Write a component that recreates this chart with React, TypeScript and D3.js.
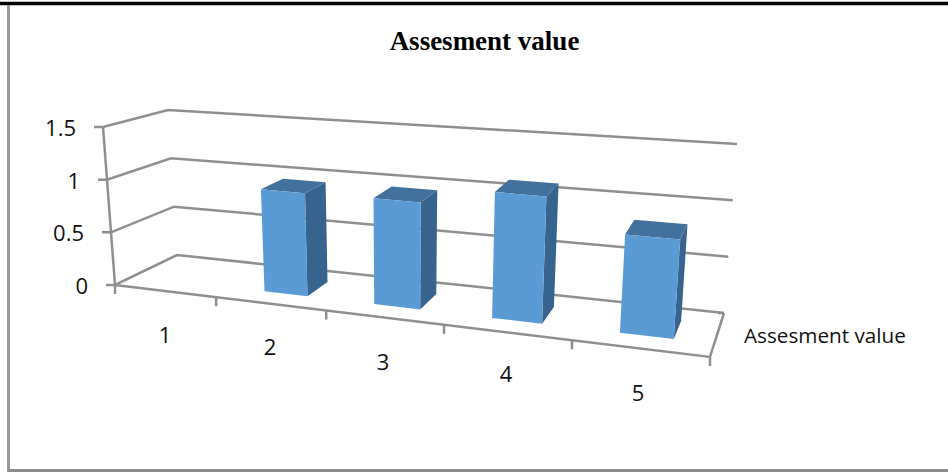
import React from "react";
import * as d3 from "d3";

const categories = ["1", "2", "3", "4", "5"];
const seriesName = "Assesment value";
const values: (number | null)[] = [null, 0.96, 0.97, 1.12, 0.85];
const valueTicks = [0, 0.5, 1, 1.5];

type Pt = [number, number];

// Screen corners of the chart box: floor and top, front and back.
const frontFloorLeft: Pt = [115, 285];
const frontFloorRight: Pt = [710, 357];
const backFloorLeft: Pt = [177, 255];
const backFloorRight: Pt = [724, 313];
const frontTopLeft: Pt = [103, 127];
const frontTopRight: Pt = [723, 176];
const backTopLeft: Pt = [168, 110];
const backTopRight: Pt = [737, 144];

// Foreshortened position along the category axis.
const catScale = d3.scaleLinear().domain([0, 1, 2, 3, 4, 5]).range([0, 0.17, 0.355, 0.553, 0.768, 1]);
const valScale = d3.scaleLinear().domain([0, 1.5]).range([0, 1]);

const mix = (a: Pt, b: Pt, t: number): Pt => [a[0] + (b[0] - a[0]) * t, a[1] + (b[1] - a[1]) * t];

// Maps (category position, depth 0..1, value) to the page.
function project(c: number, depth: number, v: number): Pt {
  const u = catScale(c);
  const w = valScale(v);
  const floor = mix(mix(frontFloorLeft, frontFloorRight, u), mix(backFloorLeft, backFloorRight, u), depth);
  const top = mix(mix(frontTopLeft, frontTopRight, u), mix(backTopLeft, backTopRight, u), depth);
  return mix(floor, top, w);
}

const pointsAttr = (pts: Pt[]) => pts.map((p) => `${p[0].toFixed(1)},${p[1].toFixed(1)}`).join(" ");

const AXIS = "#8f8f8f";
const AXIS_W = 2.5;
const BAR_FRONT = "#5b9bd5";
const BAR_TOP = "#41719c";
const BAR_SIDE = "#37648f";
const LABEL_FONT = "'Open Sans', sans-serif";

const BAR_START = 0.3;
const BAR_END = 0.7;
const DEPTH_NEAR = 0.3;
const DEPTH_FAR = 0.72;

const catLabelPos: Pt[] = [
  [165, 335],
  [270, 347],
  [383, 362],
  [506, 374],
  [638, 393],
];

export default function App() {
  return (
    <svg
      width={948}
      height={473}
      style={{ position: "absolute", left: 0, top: 0, background: "#fff" }}
    >
      {/* frame */}
      <line x1={0} x2={948} y1={3.5} y2={3.5} stroke="#000" strokeWidth={3.5} />
      <line x1={8.5} x2={8.5} y1={5} y2={472} stroke="#999" strokeWidth={3} />
      <line x1={8} x2={948} y1={470.5} y2={470.5} stroke="#8c8c8c" strokeWidth={3} />

      <text
        x={484.5}
        y={50}
        textAnchor="middle"
        fontFamily="'Liberation Serif', serif"
        fontWeight="bold"
        fontSize={27}
        fill="#000"
      >
        {seriesName}
      </text>

      {/* gridlines across back wall and left wall */}
      {valueTicks.map((t) => {
        const a = project(0, 0, t);
        const b = project(0, 1, t);
        const c = project(5, 1, t);
        const tick: Pt = [a[0] - 9, a[1]];
        return (
          <g key={t}>
            <polyline points={pointsAttr([tick, a, b, c])} fill="none" stroke={AXIS} strokeWidth={AXIS_W} />
            <text x={a[0] - 27} y={a[1] + 9} textAnchor="end" fontFamily={LABEL_FONT} fontSize={22} fill="#111">
              {t}
            </text>
          </g>
        );
      })}

      {/* value axis */}
      <line
        x1={project(0, 0, 0)[0]}
        y1={project(0, 0, 0)[1]}
        x2={project(0, 0, 1.5)[0]}
        y2={project(0, 0, 1.5)[1]}
        stroke={AXIS}
        strokeWidth={AXIS_W}
      />

      {/* floor edges and category ticks */}
      <polyline
        points={pointsAttr([project(0, 0, 0), project(5, 0, 0), project(5, 1, 0)])}
        fill="none"
        stroke={AXIS}
        strokeWidth={AXIS_W}
      />
      <line
        x1={project(5, 1, 0)[0]}
        y1={project(5, 1, 0)[1]}
        x2={project(5, 1, 0)[0] - 6}
        y2={project(5, 1, 0)[1]}
        stroke={AXIS}
        strokeWidth={AXIS_W}
      />
      {d3.range(0, 6).map((i) => {
        const p = project(i, 0, 0);
        return <line key={i} x1={p[0]} x2={p[0]} y1={p[1]} y2={p[1] + 9} stroke={AXIS} strokeWidth={AXIS_W} />;
      })}

      {/* columns, drawn back to front */}
      {values.map((v, i) => {
        if (v == null) return null;
        const l = i + BAR_START;
        const r = i + BAR_END;
        const fbl = project(l, DEPTH_NEAR, 0);
        const fbr = project(r, DEPTH_NEAR, 0);
        const ftl = project(l, DEPTH_NEAR, v);
        const ftr = project(r, DEPTH_NEAR, v);
        const bbr = project(r, DEPTH_FAR, 0);
        const btl = project(l, DEPTH_FAR, v);
        const btr = project(r, DEPTH_FAR, v);
        return (
          <g key={categories[i]}>
            <polygon points={pointsAttr([ftr, btr, bbr, fbr])} fill={BAR_SIDE} />
            <polygon points={pointsAttr([ftl, btl, btr, ftr])} fill={BAR_TOP} />
            <polygon points={pointsAttr([ftl, ftr, fbr, fbl])} fill={BAR_FRONT} />
          </g>
        );
      })}

      {categories.map((c, i) => (
        <text
          key={c}
          x={catLabelPos[i][0]}
          y={catLabelPos[i][1] + 8}
          textAnchor="middle"
          fontFamily={LABEL_FONT}
          fontSize={22}
          fill="#111"
        >
          {c}
        </text>
      ))}

      <text x={744} y={343} fontFamily={LABEL_FONT} fontSize={20.7} fill="#111">
        {seriesName}
      </text>
    </svg>
  );
}
